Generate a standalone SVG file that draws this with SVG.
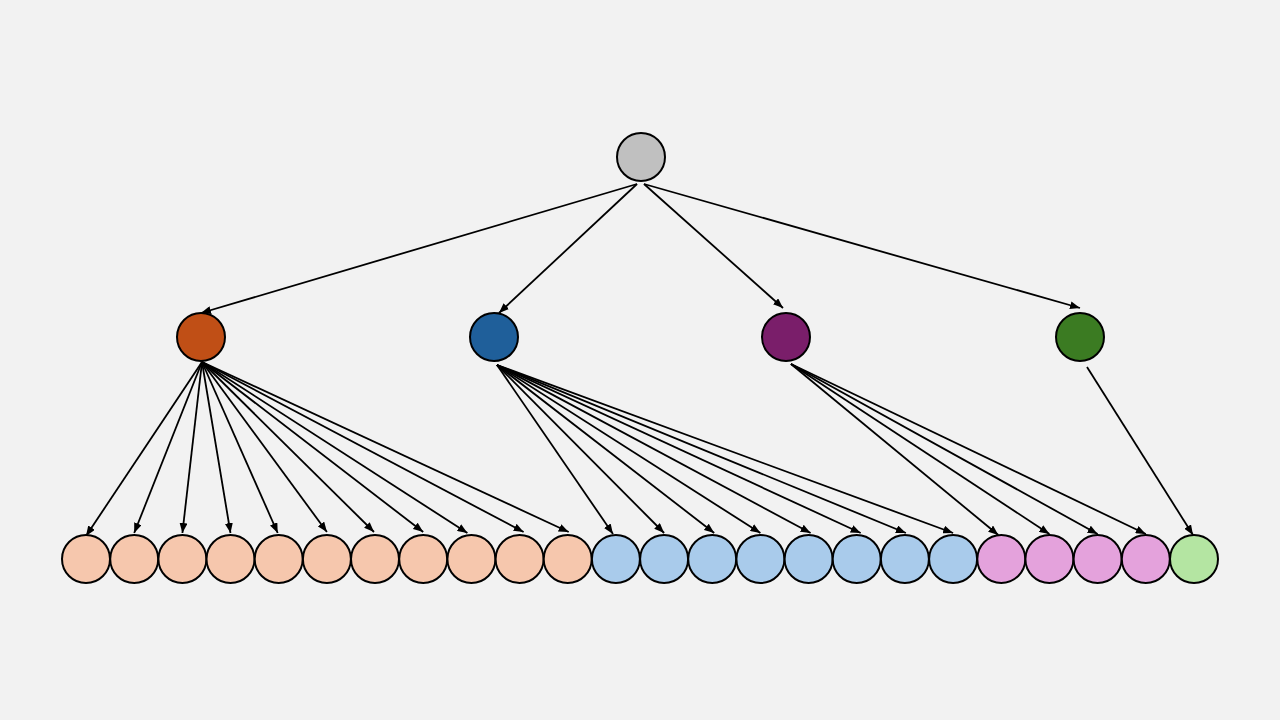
<svg xmlns="http://www.w3.org/2000/svg" width="1280" height="720" viewBox="0 0 1280 720">
<defs>
<marker id="arr" markerUnits="userSpaceOnUse" markerWidth="10" markerHeight="8" refX="10" refY="4" orient="auto">
<path d="M0,0 L10,4 L0,8 z" fill="#000"/>
</marker>
<style>
.n{stroke:#000;stroke-width:2}
.e line{stroke:#000;stroke-width:1.8;marker-end:url(#arr)}
.root{fill:#c0c0c0}
.o{fill:#c04f16}.b{fill:#1f5f9a}.p{fill:#7a1e6a}.g{fill:#3b7b22}
.lo{fill:#f6c7ad}.lb{fill:#a9cbeb}.lp{fill:#e4a2dc}.lg{fill:#b4e5a2}
</style>
</defs>
<rect width="1280" height="720" fill="#f2f2f2"/>
<g id="connectors" class="e">
<line x1="637" y1="184" x2="201" y2="313"/>
<line x1="637" y1="184" x2="499" y2="313"/>
<line x1="644" y1="184" x2="783" y2="308"/>
<line x1="644" y1="184" x2="1080" y2="308"/>
<line x1="202" y1="362" x2="86" y2="536"/>
<line x1="202" y1="362" x2="134.2" y2="533"/>
<line x1="202" y1="362" x2="182.4" y2="533"/>
<line x1="202" y1="362" x2="230.5" y2="533"/>
<line x1="202" y1="362" x2="277.7" y2="533"/>
<line x1="202" y1="362" x2="326.9" y2="532"/>
<line x1="202" y1="362" x2="374" y2="532"/>
<line x1="202" y1="362" x2="423.2" y2="532"/>
<line x1="202" y1="362" x2="467.4" y2="533"/>
<line x1="202" y1="362" x2="523.6" y2="532"/>
<line x1="202" y1="362" x2="568.7" y2="532"/>
<line x1="497" y1="365" x2="613" y2="534"/>
<line x1="497" y1="365" x2="664.1" y2="533"/>
<line x1="497" y1="365" x2="714.2" y2="533"/>
<line x1="497" y1="365" x2="760.4" y2="533"/>
<line x1="497" y1="365" x2="810.6" y2="533"/>
<line x1="497" y1="365" x2="860.7" y2="533"/>
<line x1="497" y1="365" x2="905.9" y2="533"/>
<line x1="497" y1="365" x2="953.1" y2="533"/>
<line x1="791" y1="364" x2="998.3" y2="535"/>
<line x1="791" y1="364" x2="1049.4" y2="534"/>
<line x1="791" y1="364" x2="1097.6" y2="534"/>
<line x1="791" y1="364" x2="1145.8" y2="534"/>
<line x1="1087" y1="367" x2="1193" y2="535"/>
</g>
<g id="root"><circle class="n root" cx="641" cy="157" r="24"/></g>
<g id="mid1"><circle class="n o" cx="201" cy="337" r="24"/></g>
<g id="mid2"><circle class="n b" cx="494" cy="337" r="24"/></g>
<g id="mid3"><circle class="n p" cx="786" cy="337" r="24"/></g>
<g id="mid4"><circle class="n g" cx="1080" cy="337" r="24"/></g>
<g id="leaf1"><circle class="n lo" cx="86" cy="559" r="24"/></g>
<g id="leaf2"><circle class="n lo" cx="134.2" cy="559" r="24"/></g>
<g id="leaf3"><circle class="n lo" cx="182.4" cy="559" r="24"/></g>
<g id="leaf4"><circle class="n lo" cx="230.5" cy="559" r="24"/></g>
<g id="leaf5"><circle class="n lo" cx="278.7" cy="559" r="24"/></g>
<g id="leaf6"><circle class="n lo" cx="326.9" cy="559" r="24"/></g>
<g id="leaf7"><circle class="n lo" cx="375" cy="559" r="24"/></g>
<g id="leaf8"><circle class="n lo" cx="423.2" cy="559" r="24"/></g>
<g id="leaf9"><circle class="n lo" cx="471.4" cy="559" r="24"/></g>
<g id="leaf10"><circle class="n lo" cx="519.6" cy="559" r="24"/></g>
<g id="leaf11"><circle class="n lo" cx="567.7" cy="559" r="24"/></g>
<g id="leaf12"><circle class="n lb" cx="615.9" cy="559" r="24"/></g>
<g id="leaf13"><circle class="n lb" cx="664.1" cy="559" r="24"/></g>
<g id="leaf14"><circle class="n lb" cx="712.2" cy="559" r="24"/></g>
<g id="leaf15"><circle class="n lb" cx="760.4" cy="559" r="24"/></g>
<g id="leaf16"><circle class="n lb" cx="808.6" cy="559" r="24"/></g>
<g id="leaf17"><circle class="n lb" cx="856.7" cy="559" r="24"/></g>
<g id="leaf18"><circle class="n lb" cx="904.9" cy="559" r="24"/></g>
<g id="leaf19"><circle class="n lb" cx="953.1" cy="559" r="24"/></g>
<g id="leaf20"><circle class="n lp" cx="1001.3" cy="559" r="24"/></g>
<g id="leaf21"><circle class="n lp" cx="1049.4" cy="559" r="24"/></g>
<g id="leaf22"><circle class="n lp" cx="1097.6" cy="559" r="24"/></g>
<g id="leaf23"><circle class="n lp" cx="1145.8" cy="559" r="24"/></g>
<g id="leaf24"><circle class="n lg" cx="1194" cy="559" r="24"/></g>
</svg>
